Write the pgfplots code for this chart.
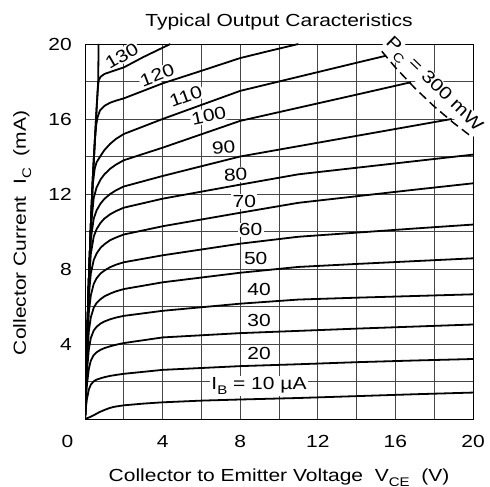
\documentclass[border=0pt]{standalone}
\usepackage{fontspec}
\setmainfont{Liberation Sans}[FakeStretch=1.2]
\usepackage{pgfplots}
\pgfplotsset{compat=1.18}
\definecolor{gridc}{RGB}{70,70,70}
\newcommand\sub[1]{\raisebox{-0.3em}{\fontsize{12.5bp}{12.5bp}\selectfont #1}}
\newcommand\fs{\fontsize{17.5bp}{21bp}\selectfont}
\tikzset{lbl/.style={font=\fs, fill=white, inner sep=1.2bp}}
\begin{document}
\begin{tikzpicture}
\begin{axis}[
  at={(0,0)}, anchor=south west,
  width=388bp, height=375bp, scale only axis,
  xmin=0, xmax=20, ymin=0, ymax=20,
  xtick={0,2,...,20}, ytick={0,2,...,20},
  xticklabels={,,4,,8,,12,,16,,20},
  yticklabels={,,4,,8,,12,,16,,20},
  tick align=inside,
  tick style={draw=gridc, line width=0.9bp},
  grid=major,
  grid style={draw=gridc, line width=0.9bp},
  major grid style={draw=gridc, line width=0.9bp},
  axis line style={black, line width=0.9bp},
  tick label style={font=\fs},
  xticklabel style={anchor=base, yshift=-28bp, inner sep=0pt},
  yticklabel style={anchor=east, xshift=-13bp, inner sep=0pt},
  cv/.style={black, solid, line width=1.8bp, line join=round, mark=none},
]
% curve labels (drawn first so their white boxes hide only grid lines)
\node[lbl, rotate=30] at (axis cs:1.9,19.36) {130};
\node[lbl, rotate=21] at (axis cs:3.72,18.34) {120};
\node[lbl, rotate=20] at (axis cs:5.2,17.2) {110};
\node[lbl, rotate=12] at (axis cs:6.38,16.18) {100};
\node[lbl, rotate=5] at (axis cs:7.15,14.47) {90};
\node[lbl, anchor=base, rotate=3] at (axis cs:7.78,12.7) {80};
\node[lbl, anchor=base] at (axis cs:8.21,11.28) {70};
\node[lbl, anchor=base] at (axis cs:8.54,9.76) {60};
\node[lbl, anchor=base] at (axis cs:8.8,8.25) {50};
\node[lbl, anchor=base] at (axis cs:8.97,6.56) {40};
\node[lbl, anchor=base] at (axis cs:8.97,4.95) {30};
\node[lbl, anchor=base] at (axis cs:8.97,3.17) {20};
\node[lbl, anchor=base] at (axis cs:8.97,1.57) {I\sub{B} = 10 µA};
% saturation envelope
\addplot[cv] coordinates {(0,0)(0.05,2)(0.1,4)(0.14,5.5)(0.2,7.5)(0.31,10.6)(0.4,12.8)(0.51,14.9)(0.6,16.6)(0.68,18)(0.7,20)};
% IB = 10
\addplot[cv] coordinates {(0,0)(0.25,0.1)(0.5,0.23)(0.75,0.37)(1,0.48)(1.25,0.58)(1.5,0.65)(2,0.73)(3,0.82)(4,0.89)(6,0.98)(8,1.04)(11,1.12)(14,1.22)(17,1.32)(20,1.41)};
% 20
\addplot[cv] coordinates {(0,0)(0.05,0.64)(0.1,1.07)(0.2,1.58)(0.3,1.83)(0.45,2.01)(0.6,2.10)(0.8,2.17)(1,2.23)(1.3,2.30)(1.6,2.35)(2,2.41)(4,2.62)(8,2.82)(11,2.92)(14,3.03)(17,3.12)(20,3.2)};
% 30
\addplot[cv] coordinates {(0,0)(0.05,1.09)(0.1,1.83)(0.2,2.69)(0.3,3.11)(0.45,3.41)(0.6,3.56)(0.8,3.69)(1,3.78)(1.3,3.88)(1.6,3.96)(2,4.05)(4,4.35)(8,4.58)(11,4.70)(14,4.82)(17,4.93)(20,5.04)};
% 40
\addplot[cv] coordinates {(0,0)(0.05,1.52)(0.1,2.55)(0.2,3.74)(0.3,4.32)(0.45,4.72)(0.6,4.92)(0.8,5.09)(1,5.20)(1.3,5.32)(1.6,5.41)(2,5.5)(4,5.77)(8,6.15)(11,6.37)(14,6.47)(17,6.56)(20,6.65)};
% 50
\addplot[cv] coordinates {(0,0)(0.05,1.9)(0.1,3.2)(0.2,4.70)(0.3,5.42)(0.45,5.94)(0.6,6.19)(0.8,6.39)(1,6.54)(1.3,6.69)(1.6,6.81)(2,6.93)(4,7.29)(8,7.8)(11,8.11)(14,8.27)(17,8.42)(20,8.57)};
% 60
\addplot[cv] coordinates {(0,0)(0.05,1.95)(0.1,3.7)(0.2,5.71)(0.3,6.59)(0.45,7.21)(0.6,7.51)(0.8,7.76)(1,7.92)(1.3,8.10)(1.6,8.23)(2,8.36)(4,8.73)(8,9.35)(11,9.72)(14,9.94)(17,10.16)(20,10.37)};
% 70
\addplot[cv] coordinates {(0,0)(0.05,1.98)(0.1,3.9)(0.2,6.6)(0.3,7.76)(0.45,8.48)(0.6,8.83)(0.8,9.13)(1,9.32)(1.3,9.54)(1.6,9.68)(2,9.84)(4,10.28)(8,11.0)(11,11.53)(14,11.88)(17,12.23)(20,12.57)};
% 80
\addplot[cv] coordinates {(0,0)(0.05,2)(0.1,3.95)(0.2,7.2)(0.3,8.8)(0.45,9.73)(0.6,10.13)(0.8,10.46)(1,10.69)(1.3,10.92)(1.6,11.09)(2,11.27)(4,11.75)(8,12.5)(11,13.05)(14,13.4)(17,13.75)(20,14.1)};
% 90
\addplot[cv] coordinates {(0,0)(0.05,2)(0.1,4)(0.2,7.45)(0.3,9.6)(0.45,10.69)(0.6,11.13)(0.8,11.49)(1,11.74)(1.3,12.0)(1.6,12.2)(2,12.4)(4,12.96)(8,14.0)(11,14.55)(14,15.1)(17,15.65)(18.9,16.0)};
% 100
\addplot[cv] coordinates {(0,0)(0.05,2)(0.1,4)(0.2,7.5)(0.3,10.2)(0.45,11.8)(0.6,12.36)(0.8,12.77)(1,13.05)(1.3,13.35)(1.6,13.57)(2,13.8)(4,14.47)(8,15.9)(11,16.6)(14,17.3)(16.8,17.96)};
% 110
\addplot[cv] coordinates {(0,0)(0.05,2)(0.1,4)(0.2,7.5)(0.31,10.6)(0.4,12.5)(0.5,13.35)(0.6,13.7)(0.8,14.03)(1,14.34)(1.3,14.68)(1.6,14.94)(2,15.2)(4,16.0)(8,17.5)(11,18.25)(14,19.0)(15.5,19.37)};
% 120
\addplot[cv] coordinates {(0,0)(0.05,2)(0.1,4)(0.2,7.5)(0.31,10.6)(0.4,12.8)(0.51,14.85)(0.58,15.7)(0.65,16.1)(0.77,16.45)(1,16.7)(1.3,16.87)(1.6,16.98)(2,17.1)(4,17.9)(6,18.57)(8,19.25)(9.5,19.63)(11,20)};
% 130
\addplot[cv] coordinates {(0,0)(0.05,2)(0.1,4)(0.2,7.5)(0.31,10.6)(0.4,12.8)(0.51,14.9)(0.6,16.6)(0.66,17.6)(0.7,18.05)(0.8,18.25)(1,18.4)(1.5,18.58)(2,18.75)(3,19.3)(4.4,20)};
% Pc = 300 mW
\addplot[cv, line width=1.5bp, dash pattern=on 9bp off 5bp] coordinates {(15.3,19.61)(16,18.75)(17,17.65)(18,16.67)(19,15.79)(20,15)};
\coordinate (pc) at (axis cs:17.95,17.8);
\end{axis}
\node[rotate=-44, fill=white, inner sep=1bp, font=\fs] at (pc) {P\sub{C} = 300 mW};
\node[font=\fs, anchor=base] at (194bp,392bp) {Typical Output Caracteristics};
\node[font=\fs, anchor=base] at (194bp,-62bp) {Collector to Emitter Voltage\ \ V\sub{CE}\ \ (V)};
\node[font=\fs, anchor=base, rotate=90] at (-59bp,186bp) {Collector Current\ \ I\sub{C}\ \ (mA)};
\node[font=\fs, anchor=base] at (-17.5bp,-28bp) {0};
\pgfresetboundingbox
\path[use as bounding box] (-85bp,-68bp) rectangle (405bp,419bp);
\end{tikzpicture}
\end{document}
